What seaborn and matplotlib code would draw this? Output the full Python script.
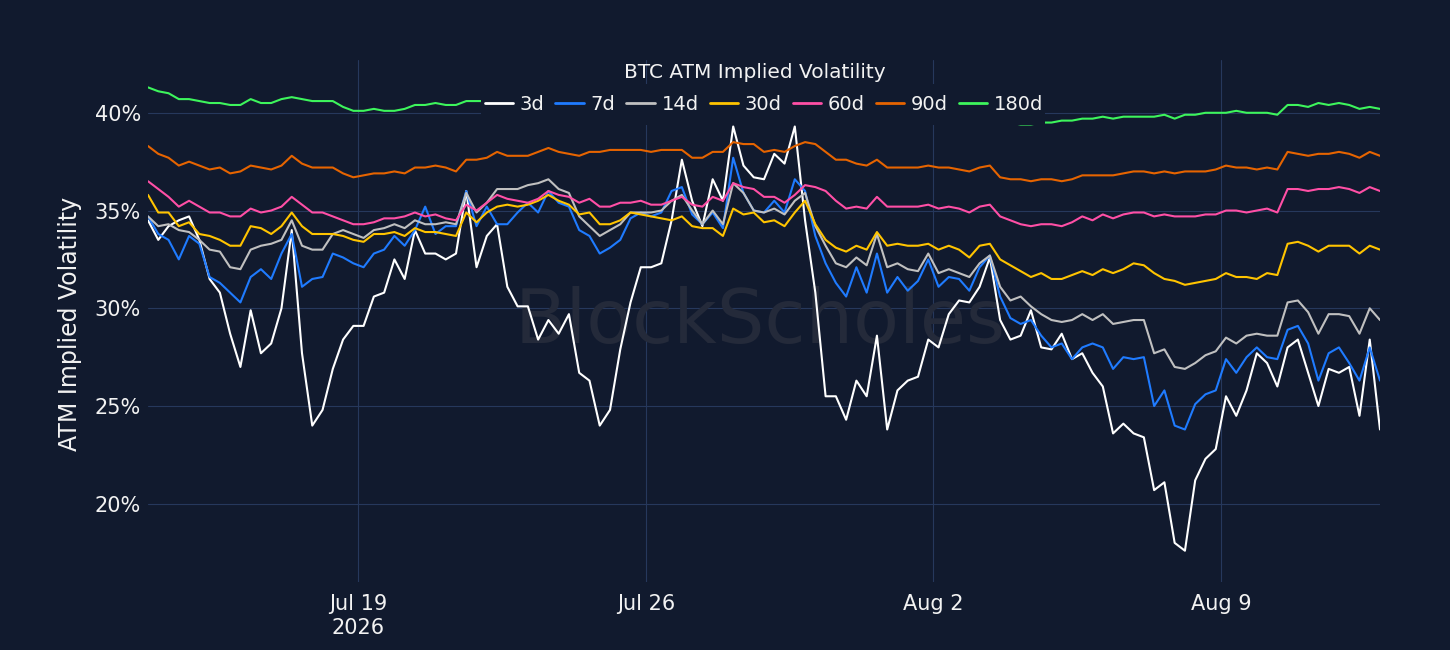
import numpy as np
import pandas as pd
import matplotlib
matplotlib.use("Agg")
import matplotlib.pyplot as plt
from matplotlib.patches import Rectangle
import seaborn as sns

# 6-hourly samples, Jul 13 21:00 -> Aug 12 21:00 (2026)
start = "2026-07-13 21:00"
n_points = 121

tenors = ["3d", "7d", "14d", "30d", "60d", "90d", "180d"]

iv_3d = [34.5, 33.5, 34.2, 34.5, 34.7, 33.5, 31.5, 30.8, 28.7, 27.0,
         29.9, 27.7, 28.2, 30.0, 34.0, 27.7, 24.0, 24.8, 26.9, 28.4,
         29.1, 29.1, 30.6, 30.8, 32.5, 31.5, 34.0, 32.8, 32.8, 32.5,
         32.8, 36.0, 32.1, 33.7, 34.3, 31.1, 30.1, 30.1, 28.4, 29.4,
         28.7, 29.7, 26.7, 26.3, 24.0, 24.8, 27.9, 30.3, 32.1, 32.1,
         32.3, 34.5, 37.6, 35.5, 34.2, 36.6, 35.5, 39.3, 37.3,
         36.7, 36.6, 37.9, 37.4, 39.3, 34.5, 30.8, 25.5, 25.5, 24.3,
         26.3, 25.5, 28.6, 23.8, 25.8, 26.3, 26.5, 28.4, 28.0, 29.7,
         30.4, 30.3, 31.1, 32.6, 29.4, 28.4, 28.6, 29.9, 28.0,
         27.9, 28.7, 27.4, 27.7, 26.7, 26.0, 23.6, 24.1, 23.6, 23.4,
         20.7, 21.1, 18.0, 17.6, 21.2, 22.3, 22.8, 25.5, 24.5, 25.8,
         27.7, 27.2, 26.0, 28.0, 28.4, 26.7, 25.0, 26.9, 26.7, 27.0,
         24.5, 28.4, 23.8]

iv_7d = [34.7, 33.8, 33.5, 32.5, 33.7, 33.3, 31.6, 31.3, 30.8, 30.3,
         31.6, 32.0, 31.5, 32.8, 33.8, 31.1, 31.5, 31.6, 32.8, 32.6,
         32.3, 32.1, 32.8, 33.0, 33.7, 33.2, 34.0, 35.2, 33.8, 34.2,
         34.2, 36.0, 34.2, 35.2, 34.3, 34.3, 34.9, 35.4, 34.9, 36.0,
         35.4, 35.2, 34.0, 33.7, 32.8, 33.1, 33.5, 34.6, 34.9, 34.7,
         34.9, 36.0, 36.2, 34.8, 34.3, 34.9, 34.1, 37.7, 35.9,
         35.0, 34.9, 35.5, 34.9, 36.6, 36.0, 33.7, 32.3, 31.3, 30.6,
         32.1, 30.8, 32.8, 30.8, 31.6, 30.9, 31.4, 32.5, 31.1, 31.6,
         31.5, 30.9, 32.1, 32.7, 30.6, 29.5, 29.2, 29.4, 28.6,
         28.0, 28.2, 27.4, 28.0, 28.2, 28.0, 26.9, 27.5, 27.4, 27.5,
         25.0, 25.8, 24.0, 23.8, 25.1, 25.6, 25.8, 27.4, 26.7, 27.5,
         28.0, 27.5, 27.4, 28.9, 29.1, 28.2, 26.3, 27.7, 28.0, 27.2,
         26.3, 28.0, 26.3]

iv_14d = [34.7, 34.2, 34.3, 34.0, 33.9, 33.5, 33.0, 32.9, 32.1, 32.0,
          33.0, 33.2, 33.3, 33.5, 34.5, 33.2, 33.0, 33.0, 33.8, 34.0,
          33.8, 33.6, 34.0, 34.1, 34.3, 34.1, 34.5, 34.3, 34.3, 34.4,
          34.3, 35.9, 34.9, 35.4, 36.1, 36.1, 36.1, 36.3, 36.4, 36.6,
          36.1, 35.9, 34.7, 34.2, 33.7, 34.0, 34.3, 34.9, 34.9, 34.9,
          35.0, 35.5, 35.8, 35.0, 34.3, 35.0, 34.3, 36.4, 35.9,
          35.0, 34.9, 35.1, 34.8, 35.5, 35.9, 34.2, 33.2, 32.3, 32.1,
          32.6, 32.2, 33.8, 32.1, 32.3, 32.0, 31.9, 32.8, 31.8, 32.0,
          31.8, 31.6, 32.3, 32.7, 31.1, 30.4, 30.6, 30.1, 29.7,
          29.4, 29.3, 29.4, 29.7, 29.4, 29.7, 29.2, 29.3, 29.4, 29.4,
          27.7, 27.9, 27.0, 26.9, 27.2, 27.6, 27.8, 28.5, 28.2, 28.6,
          28.7, 28.6, 28.6, 30.3, 30.4, 29.8, 28.7, 29.7, 29.7, 29.6,
          28.7, 30.0, 29.4]

iv_30d = [35.8, 34.9, 34.9, 34.2, 34.4, 33.8, 33.7, 33.5, 33.2, 33.2,
          34.2, 34.1, 33.8, 34.2, 34.9, 34.2, 33.8, 33.8, 33.8, 33.7,
          33.5, 33.4, 33.8, 33.8, 33.9, 33.7, 34.1, 33.9, 33.9, 33.8,
          33.7, 34.9, 34.4, 34.9, 35.2, 35.3, 35.2, 35.3, 35.5, 35.8,
          35.5, 35.3, 34.8, 34.9, 34.3, 34.3, 34.5, 34.9, 34.8, 34.7,
          34.6, 34.5, 34.7, 34.2, 34.1, 34.1, 33.7, 35.1, 34.8,
          34.9, 34.4, 34.5, 34.2, 34.9, 35.5, 34.3, 33.5, 33.1, 32.9,
          33.2, 33.0, 33.9, 33.2, 33.3, 33.2, 33.2, 33.3, 33.0, 33.2,
          33.0, 32.6, 33.2, 33.3, 32.5, 32.2, 31.9, 31.6, 31.8,
          31.5, 31.5, 31.7, 31.9, 31.7, 32.0, 31.8, 32.0, 32.3, 32.2,
          31.8, 31.5, 31.4, 31.2, 31.3, 31.4, 31.5, 31.8, 31.6, 31.6,
          31.5, 31.8, 31.7, 33.3, 33.4, 33.2, 32.9, 33.2, 33.2, 33.2,
          32.8, 33.2, 33.0]

iv_60d = [36.5, 36.1, 35.7, 35.2, 35.5, 35.2, 34.9, 34.9, 34.7, 34.7,
          35.1, 34.9, 35.0, 35.2, 35.7, 35.3, 34.9, 34.9, 34.7, 34.5,
          34.3, 34.3, 34.4, 34.6, 34.6, 34.7, 34.9, 34.7, 34.8, 34.6,
          34.5, 35.3, 35.0, 35.4, 35.8, 35.6, 35.5, 35.4, 35.6, 36.0,
          35.8, 35.7, 35.4, 35.6, 35.2, 35.2, 35.4, 35.4, 35.5, 35.3,
          35.3, 35.5, 35.7, 35.3, 35.2, 35.7, 35.5, 36.4, 36.2,
          36.1, 35.7, 35.7, 35.4, 35.8, 36.3, 36.2, 36.0, 35.5, 35.1,
          35.2, 35.1, 35.7, 35.2, 35.2, 35.2, 35.2, 35.3, 35.1, 35.2,
          35.1, 34.9, 35.2, 35.3, 34.7, 34.5, 34.3, 34.2, 34.3,
          34.3, 34.2, 34.4, 34.7, 34.5, 34.8, 34.6, 34.8, 34.9, 34.9,
          34.7, 34.8, 34.7, 34.7, 34.7, 34.8, 34.8, 35.0, 35.0, 34.9,
          35.0, 35.1, 34.9, 36.1, 36.1, 36.0, 36.1, 36.1, 36.2, 36.1,
          35.9, 36.2, 36.0]

iv_90d = [38.3, 37.9, 37.7, 37.3, 37.5, 37.3, 37.1, 37.2, 36.9, 37.0,
          37.3, 37.2, 37.1, 37.3, 37.8, 37.4, 37.2, 37.2, 37.2, 36.9,
          36.7, 36.8, 36.9, 36.9, 37.0, 36.9, 37.2, 37.2, 37.3, 37.2,
          37.0, 37.6, 37.6, 37.7, 38.0, 37.8, 37.8, 37.8, 38.0, 38.2,
          38.0, 37.9, 37.8, 38.0, 38.0, 38.1, 38.1, 38.1, 38.1, 38.0,
          38.1, 38.1, 38.1, 37.7, 37.7, 38.0, 38.0, 38.5, 38.4,
          38.4, 38.0, 38.1, 38.0, 38.3, 38.5, 38.4, 38.0, 37.6, 37.6,
          37.4, 37.3, 37.6, 37.2, 37.2, 37.2, 37.2, 37.3, 37.2, 37.2,
          37.1, 37.0, 37.2, 37.3, 36.7, 36.6, 36.6, 36.5, 36.6,
          36.6, 36.5, 36.6, 36.8, 36.8, 36.8, 36.8, 36.9, 37.0, 37.0,
          36.9, 37.0, 36.9, 37.0, 37.0, 37.0, 37.1, 37.3, 37.2, 37.2,
          37.1, 37.2, 37.1, 38.0, 37.9, 37.8, 37.9, 37.9, 38.0, 37.9,
          37.7, 38.0, 37.8]

# middle stretch of 180d sits behind the legend, values there are estimates
iv_180d = [41.3, 41.1, 41.0, 40.7, 40.7, 40.6, 40.5, 40.5, 40.4, 40.4,
           40.7, 40.5, 40.5, 40.7, 40.8, 40.7, 40.6, 40.6, 40.6, 40.3,
           40.1, 40.1, 40.2, 40.1, 40.1, 40.2, 40.4, 40.4, 40.5, 40.4,
           40.4, 40.6, 40.6,
           40.6, 40.5, 40.6, 40.5, 40.4, 40.5, 40.4, 40.4, 40.3, 40.4,
           40.3, 40.2, 40.3, 40.2, 40.2, 40.1, 40.2, 40.1, 40.0, 40.1,
           40.0, 40.0, 39.9, 40.0, 39.9, 39.9, 39.9, 39.8, 39.8, 39.8,
           39.8, 39.7, 39.7, 39.7, 39.7, 39.6, 39.6, 39.6, 39.6, 39.6,
           39.5, 39.6, 39.5, 39.6, 39.5, 39.5, 39.6, 39.5, 39.5, 39.5,
           39.5, 39.5,
           39.4, 39.4, 39.5,
           39.5, 39.6, 39.6, 39.7, 39.7, 39.8, 39.7, 39.8, 39.8, 39.8,
           39.8, 39.9, 39.7, 39.9, 39.9, 40.0, 40.0, 40.0, 40.1, 40.0,
           40.0, 40.0, 39.9, 40.4, 40.4, 40.3, 40.5, 40.4, 40.5, 40.4,
           40.2, 40.3, 40.2]

colors = ["#ffffff", "#1f7bff", "#c0c0c0", "#ffc400", "#ff4fa6", "#e66400", "#3df55c"]

xtick_dates = ["2026-07-19", "2026-07-26", "2026-08-02", "2026-08-09"]
xtick_labels = ["Jul 19\n2026", "Jul 26", "Aug 2", "Aug 9"]
ytick_vals = [20, 25, 30, 35, 40]

bg = "#111a2e"
grid_col = "#26385c"
txt_col = "#f2f2f2"

times = pd.date_range(start, periods=n_points, freq="6h")
series = [iv_3d, iv_7d, iv_14d, iv_30d, iv_60d, iv_90d, iv_180d]
df = pd.concat([pd.DataFrame({"time": times, "iv": s, "tenor": t})
                for t, s in zip(tenors, series)], ignore_index=True)

sns.set_theme(style="dark")
plt.rcParams["font.family"] = ["DejaVu Sans"]

fig = plt.figure(figsize=(14.5, 6.5), dpi=100, facecolor=bg)
ax = fig.add_axes([148 / 1450, 1 - 582 / 650, 1232 / 1450, 522 / 650])
ax.set_facecolor(bg)

sns.lineplot(data=df, x="time", y="iv", hue="tenor", hue_order=tenors,
             palette=dict(zip(tenors, colors)), linewidth=1.5, ax=ax)

ax.set_xlim(times[0], times[-1])
ax.set_ylim(16.0, 42.7)
ax.set_yticks(ytick_vals)
ax.set_yticklabels([f"{v}%" for v in ytick_vals])
ax.set_xticks(pd.to_datetime(xtick_dates))
ax.set_xticklabels(xtick_labels)
ax.set_xlabel("")
ax.set_ylabel("")
ax.tick_params(colors=txt_col, labelsize=15, length=0)
ax.tick_params(axis="y", pad=5)
ax.tick_params(axis="x", pad=9)
ax.grid(True, color=grid_col, linewidth=0.8)
ax.set_axisbelow(True)
for sp in ax.spines.values():
    sp.set_visible(False)

# watermark
ax.text(0.497, 0.498, "BlockScholes", transform=ax.transAxes, fontsize=54,
        color="#242a3a", ha="center", va="center", zorder=1)

ax.text(0.4923, 0.977, "BTC ATM Implied Volatility", transform=ax.transAxes,
        fontsize=14.5, color=txt_col, ha="center", va="center")
fig.text(70 / 1450, 0.502, "ATM Implied Volatility", rotation=90,
         fontsize=17, color=txt_col, ha="center", va="center")

# legend background block (hides lines behind it, like the original)
ax.add_patch(Rectangle((481 / 1450, 1 - 125 / 650), 564 / 1450, 41 / 650,
                       transform=fig.transFigure, facecolor=bg, edgecolor="none",
                       zorder=4, clip_on=False))

handles, labels = ax.get_legend_handles_labels()
leg = ax.legend(handles, labels, ncol=7, loc="center", bbox_to_anchor=(0.5, 0.9157),
                frameon=False, fontsize=14, handlelength=1.45, handletextpad=0.36,
                columnspacing=0.56, borderpad=0.0, labelcolor=txt_col)
leg.set_zorder(5)
for h in leg.get_lines():
    h.set_linewidth(2)

fig.savefig("out.png", dpi=100, facecolor=bg)
